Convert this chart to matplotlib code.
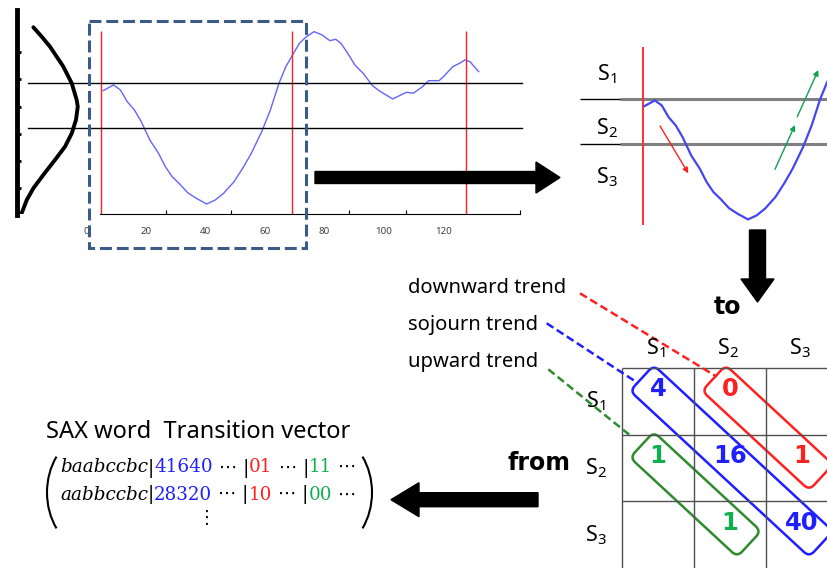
import matplotlib.pyplot as plt
from matplotlib.patches import FancyBboxPatch, Rectangle, FancyArrow, Arc
from matplotlib.transforms import Affine2D
from matplotlib.offsetbox import TextArea, HPacker, AnnotationBbox

plt.rcParams["font.family"] = ["Noto Sans", "DejaVu Sans"]
plt.rcParams["mathtext.fontset"] = "custom"
plt.rcParams["mathtext.rm"] = "Noto Sans"
plt.rcParams["mathtext.it"] = "Noto Sans:italic"

W, H = 827, 568

# z-normalised time series (time step, value)
t = [5.6, 9.1, 11.4, 13.7, 16.1, 18.4, 21.3, 24.2, 26.5, 28.8, 31.1, 34.0,
     36.9, 40.4, 43.3, 46.1, 49.6, 52.5, 55.4, 58.9, 61.8, 64.7, 67.0, 69.9,
     71.6, 73.9, 76.5, 79.2, 81.8, 83.8, 85.5, 87.8, 90.2, 93.0, 95.9, 98.3,
     102.9, 105.2, 107.5, 109.8, 112.7, 115.0, 118.5, 120.2, 123.1, 125.4,
     127.2, 128.9, 131.8]
z = [0.289, 0.398, 0.302, 0.078, -0.080, -0.304, -0.654, -0.908, -1.164,
     -1.356, -1.482, -1.662, -1.769, -1.878, -1.801, -1.673, -1.451, -1.195,
     -0.908, -0.495, -0.080, 0.430, 0.748, 1.034, 1.195, 1.321, 1.417, 1.354,
     1.245, 1.271, 1.195, 1.004, 0.780, 0.621, 0.398, 0.289, 0.130, 0.193,
     0.258, 0.239, 0.354, 0.480, 0.480, 0.570, 0.748, 0.813, 0.876, 0.843,
     0.652]

# normal density sketched at the left (density, value)
pdf_x = [0.109, 0.165, 0.220, 0.309, 0.365, 0.398, 0.405, 0.393, 0.365,
         0.320, 0.253, 0.175, 0.109, 0.065, 0.031]
pdf_z = [1.501, 1.320, 1.130, 0.748, 0.430, 0.111, -0.017, -0.272, -0.526,
         -0.782, -1.036, -1.323, -1.577, -1.801, -2.055]
pdf_ticks = [1.034, 0.512, -0.017, -0.539, -1.055, -1.577]

breakpoints = [0.43, -0.43]
segment_edges = [5, 69, 127.5]
tick_marks = [26.8, 48.7, 69.0, 88.2, 107.5, 127.4, 145.7]
tick_labels = [0, 20, 40, 60, 80, 100, 120]

states = ["S$_1$", "S$_2$", "S$_3$"]
counts = [[4, 0, None],
          [1, 16, 1],
          [None, 1, 40]]
trend_names = ["downward trend", "sojourn trend", "upward trend"]
trend_colors = ["#FF2020", "#1F1FFF", "#2E8B2E"]
digit_green = "#10B050"

sax_words = ["baabccbc", "aabbccbc"]
sax_sojourn = ["41640", "28320"]
sax_down = ["01", "10"]
sax_up = ["11", "00"]

bold_font = ["DejaVu Sans"]
serif = ["DejaVu Serif", "DejaVu Sans", "Noto Sans CJK JP"]


def px_box(x0, y0, x1, y1):
    return [x0 / W, 1 - y1 / H, (x1 - x0) / W, (y1 - y0) / H]


fig = plt.figure(figsize=(W / 100, H / 100), dpi=100)

# ---- time series with breakpoints ----
ax_ts = fig.add_axes(px_box(83.5, 10, 520, 214.3))
ax_ts.set_facecolor("none")
ax_ts.plot(t, z, color="#6464FF", lw=1)
ax_ts.vlines(segment_edges, -2.075, 1.42, color="#FF2020", lw=1, clip_on=False)
for b in breakpoints:
    ax_ts.plot([-19.8, 146.3], [b, b], color="black", lw=1, clip_on=False)
ax_ts.set_xlim(-1, 145.7)
ax_ts.set_ylim(-2.075, 1.831)
for s in ["left", "top", "right"]:
    ax_ts.spines[s].set_visible(False)
ax_ts.spines["bottom"].set_bounds(4.5, 145.7)
ax_ts.set_yticks([])
ax_ts.set_xticks(tick_marks, [""] * len(tick_marks))
ax_ts.set_xticks(tick_labels, [str(v) for v in tick_labels], minor=True)
ax_ts.tick_params(axis="x", which="major", direction="in", length=3)
ax_ts.tick_params(axis="x", which="minor", length=0, labelsize=7,
                  labelcolor="#404040", pad=9)

# ---- normal density ----
ax_pdf = fig.add_axes(px_box(17, 10, 107, 214.3))
ax_pdf.set_facecolor("none")
ax_pdf.plot(pdf_x, pdf_z, color="black", lw=2.8, solid_capstyle="round",
            solid_joinstyle="round")
ax_pdf.set_xlim(0, 0.6)
ax_pdf.set_ylim(-2.075, 1.831)
for s in ["bottom", "top", "right"]:
    ax_pdf.spines[s].set_visible(False)
ax_pdf.spines["left"].set_linewidth(3.5)
ax_pdf.spines["left"].set_bounds(-2.094, 1.831)
ax_pdf.set_xticks([])
ax_pdf.set_yticks(pdf_ticks, [""] * len(pdf_ticks))
ax_pdf.tick_params(axis="y", direction="in", length=3, width=2)

# ---- zoom of the first segment ----
ax_zoom = fig.add_axes(px_box(642.7, 47, 827, 230))
ax_zoom.set_facecolor("none")
ax_zoom.axis("off")
ax_zoom.set_xlim(5, 66.95)
ax_zoom.set_ylim(-2.080, 1.419)
ax_zoom.hlines(breakpoints, -16.1, 67, color="black", lw=1, clip_on=False)
ax_zoom.hlines(breakpoints, -2.6, 67, color="#808080", lw=2.2, clip_on=False)
ax_zoom.vlines(segment_edges[0], -1.985, 1.419, color="#FF3030", lw=1.4,
               clip_on=False)
ax_zoom.plot(t, z, color="#4646F0", lw=1.6)

# ---- overlay in pixel coordinates ----
ax = fig.add_axes([0, 0, 1, 1])
ax.set_xlim(0, W)
ax.set_ylim(H, 0)
ax.axis("off")

ax.add_patch(Rectangle((88.8, 20.7), 217, 227.3, fill=False, ec="#3A5A88",
                       lw=2.2, ls=(0, (3.9, 1.6))))

for (x0, y0, x1, y1), c in [((660, 126, 688.3, 173.3), "#FF2020"),
                            ((775, 169.3, 795, 125), "#10A050"),
                            ((797.3, 116.7, 818.3, 70), "#10A050")]:
    ax.annotate("", xy=(x1, y1), xytext=(x0, y0),
                arrowprops=dict(arrowstyle="-|>", color=c, lw=1,
                                mutation_scale=8, shrinkA=0, shrinkB=0))

for lab, y in zip(states, [74, 128, 177]):
    ax.text(607, y, lab, fontsize=15.5, ha="center", va="center")

ax.add_patch(FancyArrow(315, 177.5, 245, 0, width=12, head_width=31,
                        head_length=24, length_includes_head=True, color="black"))
ax.add_patch(FancyArrow(757.5, 230, 0, 72, width=16, head_width=33,
                        head_length=23, length_includes_head=True, color="black"))
ax.add_patch(FancyArrow(538, 499.7, -147, 0, width=14, head_width=34,
                        head_length=28, length_includes_head=True, color="black"))

# ---- transition matrix ----
gx0, gy0, cw, ch = 622, 368, 72, 66.7
ax.vlines([gx0 + cw * k for k in range(3)], gy0, H, color="#505050", lw=1)
ax.hlines([gy0 + ch * k for k in range(3)], gx0, W, color="#505050", lw=1)

for j, lab in enumerate(states):
    ax.text(gx0 + cw * (j + 0.5) - 2, gy0 - 20, lab, fontsize=15.5,
            ha="center", va="center")
for i, lab in enumerate(states):
    ax.text(gx0 - 26, gy0 + ch * (i + 0.5), lab, fontsize=15.5,
            ha="center", va="center")

for i, row in enumerate(counts):
    for j, v in enumerate(row):
        if v is None:
            continue
        c = trend_colors[1] if i == j else (trend_colors[0] if j > i else digit_green)
        ax.text(gx0 + cw * (j + 0.5), gy0 + ch * (i + 0.5) - 12, str(v),
                fontsize=17.5, fontweight="bold", family=bold_font, color=c,
                ha="center", va="center")

ang = 42.8
step = (cw ** 2 + ch ** 2) ** 0.5
for (r0, c0, n), c in [((0, 1, 2), trend_colors[0]),
                       ((0, 0, 3), trend_colors[1]),
                       ((1, 0, 2), trend_colors[2])]:
    cx = gx0 + cw * (c0 + 0.5 + (n - 1) / 2) + 1.5
    cy = gy0 + ch * (r0 + 0.5 + (n - 1) / 2) - 7
    L, Wd = (n - 1) * step + 48, 35
    box = FancyBboxPatch((cx - L / 2, cy - Wd / 2), L, Wd,
                         boxstyle="round,pad=0,rounding_size=7",
                         fill=False, ec=c, lw=1.8)
    box.set_transform(Affine2D().rotate_deg_around(cx, cy, ang) + ax.transData)
    ax.add_patch(box)

# trend legend with dashed connectors
for name, c, y, seg in zip(trend_names, trend_colors, [288, 325, 362],
                           [((580, 293.3), (716.7, 376.7)),
                            ((546.7, 323.3), (638.3, 383.3)),
                            ((548.3, 369.3), (631.7, 436.7))]):
    ax.text(408, y, name, fontsize=14.5, ha="left", va="center")
    (x0, y0), (x1, y1) = seg
    ax.plot([x0, x1], [y0, y1], color=c, lw=1.8, ls=(0, (3.2, 1.6)))

ax.text(728, 307, "to", fontsize=17, fontweight="bold", family=bold_font,
        ha="center", va="center")
ax.text(570, 463, "from", fontsize=17, fontweight="bold", family=bold_font,
        ha="right", va="center")

# ---- SAX words and transition vectors ----
ax.text(46, 432, "SAX word  Transition vector", fontsize=17, ha="left",
        va="center")
for k in range(2):
    parts = [(sax_words[k], "black", "italic"), ("|", "black", "normal"),
             (sax_sojourn[k], trend_colors[1], "normal"),
             (" \u22ef |", "black", "normal"),
             (sax_down[k], trend_colors[0], "normal"),
             (" \u22ef |", "black", "normal"),
             (sax_up[k], digit_green, "normal"),
             (" \u22ef", "black", "normal")]
    boxes = [TextArea(s, textprops=dict(color=c, style=st, fontsize=13.2,
                                        family=serif)) for s, c, st in parts]
    pack = HPacker(children=boxes, align="baseline", pad=0, sep=0)
    ax.add_artist(AnnotationBbox(pack, (60, 468 + 27 * k), xycoords="data",
                                 box_alignment=(0, 0.5), frameon=False, pad=0))
ax.text(207, 518, "\u22ee", fontsize=13, family=serif, ha="center", va="center")

ax.add_patch(Arc((95, 492.5), 96, 120, theta1=137, theta2=223, lw=1.5))
ax.add_patch(Arc((324, 492.5), 96, 120, theta1=-43, theta2=43, lw=1.5))

fig.savefig("out.png", dpi=100)
